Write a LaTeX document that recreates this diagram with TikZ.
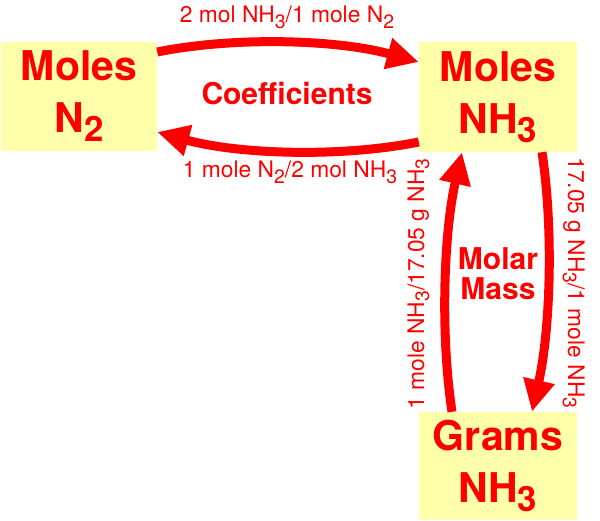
\documentclass[tikz,border=0pt]{standalone}
\usepackage{fontspec}
\setmainfont{TeX Gyre Heros}
\usepackage{graphicx}
\usetikzlibrary{arrows.meta}
\definecolor{boxy}{RGB}{255,255,170}
\definecolor{redc}{RGB}{255,0,0}
\newcommand{\sbs}[1]{\raisebox{-0.22em}{\scalebox{0.85}{#1}}}
\begin{document}
\begin{tikzpicture}[x=1pt,y=-1pt,
  box/.style={fill=boxy, draw=none, inner sep=0pt, minimum width=158pt, minimum height=109pt, align=center, text=redc, font=\fontsize{41}{52}\selectfont\bfseries},
  conv/.style={draw=redc, line width=9pt, -{Triangle[length=32pt,width=30pt]}},
  lab/.style={text=redc, font=\fontsize{22.8}{26}\selectfont, inner sep=0pt, anchor=base},
  big/.style={text=redc, font=\fontsize{30}{30}\selectfont\bfseries, inner sep=0pt, anchor=base}]
\useasboundingbox (0,0) rectangle (600,521);
\node[box, minimum width=156pt] (n2) at (79,96.5) {Moles\\N\sbs{2}};
\node[box, minimum height=110pt] (nh3) at (498,97) {Moles\\NH\sbs{3}};
\node[box, minimum height=108pt] (grams) at (498,466) {Grams\\NH\sbs{3}};
\draw[conv] ([yshift=44.5pt]n2.east) .. controls +(80,-16) and +(-80,-22) .. ([yshift=35pt]nh3.west);
\draw[conv] ([yshift=-45pt]nh3.west) .. controls +(-80,16) and +(80,22) .. ([yshift=-35.5pt]n2.east);
\draw[conv] ([xshift=-46pt]grams.north) .. controls +(-12,-80) and +(-18,80) .. ([xshift=-36pt]nh3.south);
\draw[conv] ([xshift=44pt]nh3.south) .. controls +(12,80) and +(18,-80) .. ([xshift=34pt]grams.north);
\node[lab] (t1) at (287,23) {2 mol NH\sbs{3}/1 mole N\sbs{2}};
\node[lab] (t2) at (290,178) {1 mole N\sbs{2}/2 mol NH\sbs{3}};
\node[big] (coef) at (287,105) {Coefficients};
\node[big] (molar) at (498,270) {Molar};
\node[big] (mass) at (498,300) {Mass};
\node[lab, rotate=90] (t3) at (424,284) {1 mole NH\sbs{3}/17.05 g NH\sbs{3}};
\node[lab, rotate=-90] (t4) at (568,283) {17.05 g NH\sbs{3}/1 mole NH\sbs{3}};
\end{tikzpicture}
\end{document}
